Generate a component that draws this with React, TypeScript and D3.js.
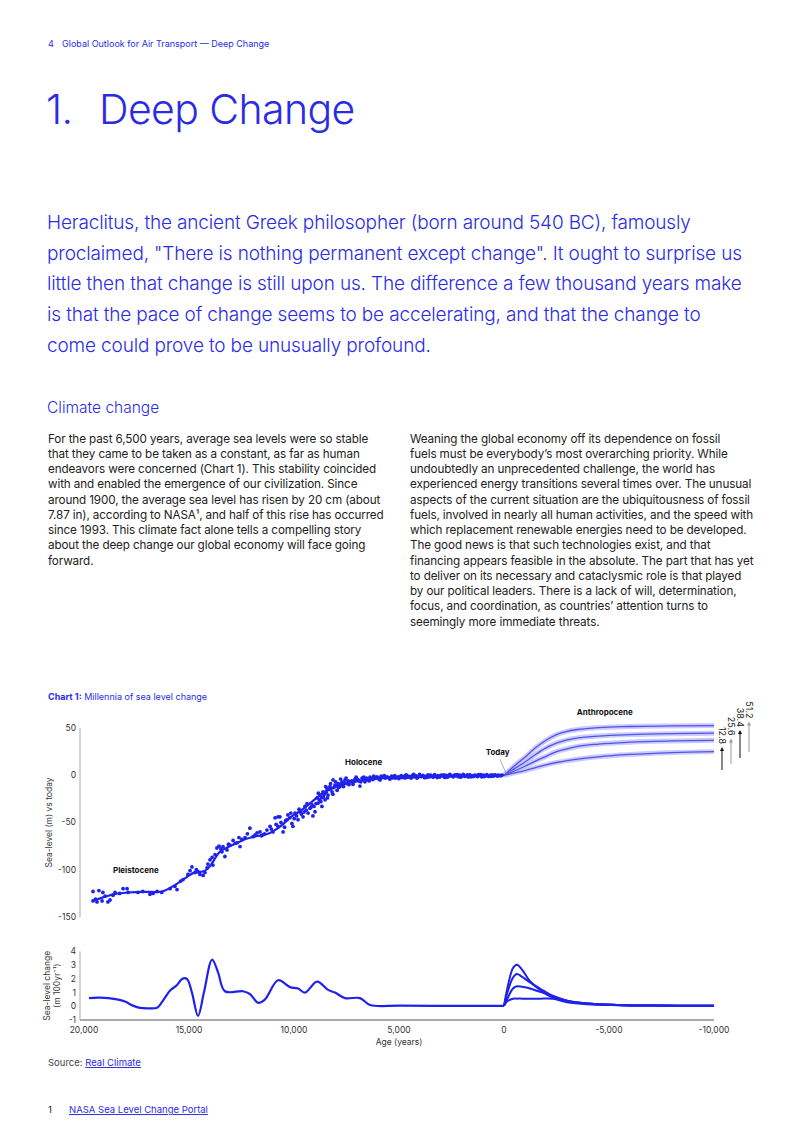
import React from "react";
import * as d3 from "d3";

const BLUE = "#2b2be6";
const MARK = "#1f22ea";
const FONT = "Inter, 'Noto Sans', sans-serif";

const headerText = "Global Outlook for Air Transport — Deep Change";
const introLines = [
  "Heraclitus, the ancient Greek philosopher (born around 540 BC), famously",
  "proclaimed, \"There is nothing permanent except change\". It ought to surprise us",
  "little then that change is still upon us. The difference a few thousand years make",
  "is that the pace of change seems to be accelerating, and that the change to",
  "come could prove to be unusually profound.",
];
const leftLines = [
  "For the past 6,500 years, average sea levels were so stable",
  "that they came to be taken as a constant, as far as human",
  "endeavors were concerned (Chart 1). This stability coincided",
  "with and enabled the emergence of our civilization. Since",
  "around 1900, the average sea level has risen by 20 cm (about",
  "7.87 in), according to NASA¹, and half of this rise has occurred",
  "since 1993. This climate fact alone tells a compelling story",
  "about the deep change our global economy will face going",
  "forward.",
];
const rightLines = [
  "Weaning the global economy off its dependence on fossil",
  "fuels must be everybody’s most overarching priority. While",
  "undoubtedly an unprecedented challenge, the world has",
  "experienced energy transitions several times over. The unusual",
  "aspects of the current situation are the ubiquitousness of fossil",
  "fuels, involved in nearly all human activities, and the speed with",
  "which replacement renewable energies need to be developed.",
  "The good news is that such technologies exist, and that",
  "financing appears feasible in the absolute. The part that has yet",
  "to deliver on its necessary and cataclysmic role is that played",
  "by our political leaders. There is a lack of will, determination,",
  "focus, and coordination, as countries’ attention turns to",
  "seemingly more immediate threats.",
];

// ---- chart data ----
const levelTicks = [50, 0, -50, -100, -150];
const rateTicks = [4, 3, 2, 1, 0, -1];
const ageTicks = [20000, 15000, 10000, 5000, 0, -5000, -10000];
const scenarioLabels = ["12.8", "25.6", "38.4", "51.2"];

// [age (years before today), sea level (m)]
const seaLevelSamples: [number, number][] = [
  [19570,-123],[19290,-122],[19100,-124],[19570,-133],[19380,-134],[19140,-133],[18860,-134],[18760,-132],
  [18620,-127],[18520,-124],[18140,-120],[17950,-120],[17900,-124],[17430,-124],[16860,-126],[16710,-125],
  [16520,-123],[15900,-120],[15670,-117.5],[15570,-121],[15290,-110.5],[15050,-105],[14950,-101],[14860,-97],
  [14710,-103],[14570,-102],[14480,-105],[14330,-106],[14240,-103],[14140,-98],[14100,-94],[14000,-89.5],
  [13900,-87],[13860,-95],[13670,-77],[13570,-75],[13430,-81],[13380,-75.5],[13290,-86],[13190,-79],
  [13050,-74],[12900,-69],[12710,-71.5],[12570,-75.5],[12480,-68],[12330,-66],[12100,-56],[11950,-65],
  [11760,-61],[11620,-60],[11480,-63],[11290,-58],[11140,-54],[11000,-60],[10900,-45],[10760,-44],
  [10760,-54],[10670,-44],[10520,-60],[10330,-47],[10290,-42],[10100,-51],[10050,-54],[9950,-40],
  [9810,-47],[9710,-38.6],[9570,-44],[9480,-33],[9330,-40],[9240,-35],[9140,-31.5],[9100,-43],
  [9000,-38.6],[8900,-24],[8860,-29.5],[8760,-21],[8670,-33],[8620,-17.5],[8520,-26],[8430,-14],
  [8380,-21],[8290,-12],[8190,-17.5],[8140,-5],[8050,-10.5],[7950,-16],[7900,-8.8],[7810,-12],
  [7710,-7],[7670,-10.5],[7570,-5],[7480,-8.8],[7330,-7],[7190,-9.5],[7100,-4.5],[6950,-5],
  [6860,-11.5],[6760,-3],[6620,-7],[6480,-5],[6380,-2],[6240,-4.5],[6050,-1.7],[5900,-5],
  [5760,-2],[5570,-1.7],[5430,-4],[5290,-2.8],[5050,-1.7],
  [19450,-131],[19000,-128],[18300,-125],[17200,-123],[16300,-124],[15400,-112],[14650,-100],[13760,-84],
  [12800,-72],[11850,-63],[11400,-62],[10620,-50],[10400,-48],[10200,-45],[9880,-43],[9650,-41],
  [9420,-37],[9200,-34],[8950,-30],[8800,-26],[8700,-24],[8560,-20],[8470,-18],[8330,-15],
  [8240,-14],[8100,-13],[8000,-11],[7750,-9],[7600,-8],[7420,-6],[7250,-6],[7000,-4],
  [6900,-6],[6700,-4],[6550,-3],[6300,-3.5],[6150,-2.5],[5980,-3],[5850,-1],[5650,-3],
  [5500,-2.5],[5350,-1],[5150,-3],[4950,-2],
  [13480,-78],[13120,-73],[12620,-66],[12220,-62],[11550,-64],[11080,-57],[10850,-52],[10450,-55],
  [10150,-40],[9990,-46],[9760,-36],[9520,-39],[9380,-30],[9050,-33],[8840,-19],[8720,-28],
  [8600,-23],[8490,-12],[8410,-24],[8260,-9],[8150,-20],[8020,-7],[7880,-13],[7780,-4],
  [7640,-12],[7520,-3],[7380,-10],[7150,-7],[7040,-2],[6820,-7],[6680,-2],[6420,-6],
  [6200,-1],[5950,-4],[5700,-0.5],[5450,-3.5],[5200,-0.5],[5000,-3.5],
  [4900,-0.5],[4820,-2.5],[4740,-1],[4660,0.5],[4580,-2],[4500,-1.2],[4420,-3],[4340,0],
  [4260,-1.8],[4180,-0.6],[4100,-2.2],[4020,0.8],[3940,-1.4],[3860,-0.2],[3780,-2.6],[3700,-1],
  [3620,0.4],[3540,-1.6],[3460,-0.4],[3380,-2],[3300,0.6],[3220,-1.1],[3140,-0.3],[3060,-1.9],
  [2980,0.2],[2900,-0.9],[2820,-2.3],[2740,-0.1],[2660,-1.3],[2580,0.9],[2500,-0.7],[2420,-1.7],
  [2340,0.3],[2260,-0.5],[2180,-1.5],[2100,0.1],[2020,-0.8],[1940,1],[1860,-1.2],[1780,-0.3],
  [1700,-1.8],[1620,0.5],[1540,-0.6],[1460,-1.4],[1380,0.2],[1300,-0.9],[1220,0.7],[1140,-0.4],
  [1060,-1.6],[980,0],[900,-0.7],[820,0.6],[740,-1.1],[660,-0.2],[580,0.4],[500,-0.8],
  [420,0.3],[340,-0.5],[260,0.1],[180,-0.3],[100,0.2],
  [4860,-1.5],[4700,-2.8],[4620,-0.4],[4460,-1.9],[4300,1],[4140,-2.9],[3980,-0.6],[3820,-1.5],
  [3660,-2.2],[3500,0.2],[3340,-1.2],[3180,-2.4],[3020,-0.5],[2860,0.5],[2700,-2],[2540,-0.2],
  [2380,-1],[2220,0.7],[2060,-2],[1900,-0.4],[1740,0.3],[1580,-1.7],[1420,-0.3],[1260,-1.3],
  [1100,0.6],[940,-1.4],[780,-0.3],[620,-1.2],[460,0],[300,-0.9],[140,-0.4],
];

const seaLevelTrend: [number, number][] = [
  [19600,-133],[19200,-130],[18600,-125.5],[17900,-124],[17300,-123],[16500,-124],[16200,-123],
  [15700,-117],[15050,-107],[14760,-102],[14430,-103],[14100,-100],[13830,-91],[13570,-80],
  [13140,-76],[12670,-71],[12050,-65],[11240,-63],[10900,-58],[10500,-52],[10200,-44],[9600,-37],
  [9100,-27],[8500,-16],[7700,-9],[6700,-5],[5800,-3],[4500,-1.5],[3000,-0.8],[1500,-0.4],[0,0],
];

const futureAges = [0, -500, -1000, -1500, -2000, -2500, -3000, -3500, -4500, -6000, -8000, -10000];
const futureLevelA = [0, 10, 19, 29, 37, 43, 46.5, 48.4, 50.5, 51.6, 52.2, 52.6];
const futureLevelB = [0, 7, 14, 22, 29, 34, 37.5, 39.5, 41.5, 43, 44, 44.5];
const futureLevelC = [0, 4.5, 9.5, 15, 20, 25, 28, 30.5, 33, 35, 36.3, 37];
const futureLevelD = [0, 2.5, 5, 8, 11, 13.5, 15.5, 17, 19.5, 22, 24, 25];

const pastRate: [number, number][] = [
  [19760,0.6],[19240,0.63],[18430,0.5],[18050,0.35],[17670,0.05],[17330,-0.12],[16860,-0.15],
  [16520,-0.1],[16290,0.3],[15900,1.15],[15570,1.55],[15330,2.0],[15100,2.0],[14860,1.0],
  [14570,-0.7],[14290,1.0],[13900,3.4],[13620,2.5],[13290,1.1],[12430,1.1],[12100,0.9],
  [11710,0.25],[11380,0.5],[10760,1.9],[10190,1.4],[9810,1.3],[9480,1.0],[8900,1.8],
  [8380,1.2],[8050,1.0],[7570,0.6],[6860,0.6],[6380,0.1],[4950,0.05],[2570,0.03],[0,0.03],
];
const futureRateAges = [0, -143, -430, -620, -860, -1240, -1715, -2330, -3000, -3950, -5380, -7000, -10000];
const futureRateA = [0.03, 1.2, 2.8, 3.04, 2.68, 1.83, 1.2, 0.63, 0.37, 0.2, 0.1, 0.05, 0.04];
const futureRateB = [0.03, 0.9, 2.1, 2.36, 2.15, 1.75, 1.3, 0.75, 0.4, 0.2, 0.1, 0.05, 0.04];
const futureRateC = [0.03, 0.5, 1.3, 1.46, 1.42, 1.3, 1.05, 0.75, 0.4, 0.2, 0.1, 0.05, 0.04];
const futureRateD = [0.03, 0.35, 0.55, 0.56, 0.56, 0.56, 0.56, 0.55, 0.3, 0.15, 0.08, 0.05, 0.04];

export default function App() {
  const x = d3.scaleLinear().domain([20000, -10000]).range([84, 714]);
  const yL = d3.scaleLinear().domain([-150, 50]).range([917, 728]);
  const yR = d3.scaleLinear().domain([-1, 4]).range([1020, 951.5]);
  const fmt = (v: number) => d3.format(",")(v).replace("−", "-");

  const lineL = d3.line<[number, number]>().x((d) => x(d[0])).y((d) => yL(d[1])).curve(d3.curveBasis);
  const lineR = d3.line<[number, number]>().x((d) => x(d[0])).y((d) => yR(d[1])).curve(d3.curveCatmullRom.alpha(0.5));
  const futureL = d3.line<[number, number]>().x((d) => x(d[0])).y((d) => yL(d[1])).curve(d3.curveMonotoneX);
  const futureR = d3.line<[number, number]>().x((d) => x(d[0])).y((d) => yR(d[1])).curve(d3.curveCatmullRom.alpha(0.5));

  const levelSeries = [futureLevelA, futureLevelB, futureLevelC, futureLevelD].map((s) =>
    futureAges.map((a, i) => [a, s[i]] as [number, number])
  );
  const rateSeries = [futureRateA, futureRateB, futureRateC, futureRateD].map((s) =>
    futureRateAges.map((a, i) => [a, s[i]] as [number, number])
  );

  const x0 = x(0), y0 = yL(0);
  const xEnd = x(-10000);
  const bodyProps = { fontSize: 11.7, letterSpacing: -0.12, fill: "#222" };

  return (
    <div style={{ position: "absolute", left: 0, top: 0 }}>
      <svg width={802} height={1133} style={{ display: "block", background: "#fff" }} fontFamily={FONT}>
        {/* header */}
        <text x={48} y={46.5} fontSize={9} fill={BLUE}>4</text>
        <text x={62} y={46.5} fontSize={9} fill={BLUE}>{headerText}</text>
        <text y={124} fontSize={41} fontWeight={300} letterSpacing={-0.6} fill={BLUE}>
          <tspan x={46}>1.</tspan>
          <tspan x={99}>Deep Change</tspan>
        </text>
        {introLines.map((t, i) => (
          <text key={i} x={47} y={229 + i * 30.7} fontSize={19} letterSpacing={-0.15} fontWeight={300} fill={BLUE}>{t}</text>
        ))}
        <text x={47} y={412.5} fontSize={15.5} fontWeight={300} fill={BLUE}>Climate change</text>
        {leftLines.map((t, i) => (
          <text key={i} x={48} y={442.5 + i * 15.25} {...bodyProps}>{t}</text>
        ))}
        {rightLines.map((t, i) => (
          <text key={i} x={410} y={442.5 + i * 15.25} {...bodyProps}>{t}</text>
        ))}

        {/* chart title */}
        <text x={48} y={700} fontSize={9} fill={BLUE}>
          <tspan fontWeight={700}>Chart 1:</tspan>
          <tspan> Millennia of sea level change</tspan>
        </text>

        {/* top panel axis */}
        <line x1={80} x2={80} y1={yL(50)} y2={yL(-150)} stroke="#aaa" strokeWidth={1} />
        {levelTicks.map((t) => (
          <text key={t} x={76} y={yL(t)} dy="0.35em" textAnchor="end" fontSize={8.5} fill="#333">{t}</text>
        ))}
        <text transform={`translate(52,${yL(-50)}) rotate(-90)`} textAnchor="middle" fontSize={8.5} fill="#333">Sea-level (m) vs today</text>

        {/* future bands + lines */}
        {levelSeries.map((s, i) => (
          <path key={"b" + i} d={futureL(s) || ""} fill="none" stroke="#c2c2fc" strokeWidth={5} strokeOpacity={0.85} />
        ))}
        {levelSeries.map((s, i) => (
          <path key={"l" + i} d={futureL(s) || ""} fill="none" stroke="#5252ec" strokeWidth={1.3} />
        ))}

        {/* scatter + trend */}
        {seaLevelSamples.map((d, i) => (
          <circle key={i} cx={x(d[0])} cy={yL(d[1])} r={1.9} fill={MARK} />
        ))}
        <path d={lineL(seaLevelTrend) || ""} fill="none" stroke={MARK} strokeWidth={2.2} />

        {/* labels */}
        <text x={x(18620)} y={yL(-100)} dy="0.35em" fontSize={8} fontWeight={700} fill="#111">Pleistocene</text>
        <text x={x(7570)} y={yL(13.5)} dy="0.35em" fontSize={8} fontWeight={700} fill="#111">Holocene</text>
        <text x={x(300)} y={yL(24)} dy="0.35em" textAnchor="middle" fontSize={8} fontWeight={700} fill="#111">Today</text>
        <line x1={x0 - 4} y1={y0 - 16} x2={x0 + 2} y2={y0 - 2} stroke="#999" strokeWidth={0.8} />
        <text x={x(-4800)} y={yL(66.5)} dy="0.35em" textAnchor="middle" fontSize={8} fontWeight={700} fill="#111">Anthropocene</text>

        {/* scenario arrows */}
        {scenarioLabels.map((lab, i) => {
          const ax = xEnd + 8 + i * 9;
          const yb = 770 - i * 6;
          const yt = 748 - i * 8.5;
          const col = i % 2 === 0 ? "#111" : "#999";
          return (
            <g key={lab}>
              <line x1={ax} x2={ax} y1={yb} y2={yt + 2} stroke={col} strokeWidth={1} />
              <path d={`M${ax - 2},${yt + 3} L${ax},${yt - 1} L${ax + 2},${yt + 3} Z`} fill={col} />
              <text transform={`translate(${ax - 3},${yt - 4}) rotate(90)`} textAnchor="end" fontSize={9} fill="#222">{lab}</text>
            </g>
          );
        })}

        {/* bottom panel */}
        <line x1={80} x2={80} y1={yR(4)} y2={yR(-1)} stroke="#aaa" strokeWidth={1} />
        <line x1={80} x2={xEnd} y1={yR(-1)} y2={yR(-1)} stroke="#aaa" strokeWidth={2} />
        {rateTicks.map((t) => (
          <text key={t} x={76} y={yR(t)} dy="0.35em" textAnchor="end" fontSize={8.5} fill="#333">{t}</text>
        ))}
        <text transform={`translate(50,${yR(1.5)}) rotate(-90)`} textAnchor="middle" fontSize={8.5} fill="#333">Sea-level change</text>
        <text transform={`translate(60,${yR(1.5)}) rotate(-90)`} textAnchor="middle" fontSize={8.5} fill="#333">(m 100yr⁻¹)</text>
        {ageTicks.map((t) => (
          <text key={t} x={x(t)} y={1033} textAnchor="middle" fontSize={8.5} fill="#333">{fmt(t)}</text>
        ))}
        <text x={x(5000)} y={1045} textAnchor="middle" fontSize={8.5} fill="#333">Age (years)</text>
        <path d={lineR(pastRate) || ""} fill="none" stroke={MARK} strokeWidth={2.2} />
        {rateSeries.map((s, i) => (
          <path key={i} d={futureR(s) || ""} fill="none" stroke={MARK} strokeWidth={2} />
        ))}

        {/* source + footnote */}
        <text x={48} y={1066} fontSize={9.5} fill="#444">
          <tspan>Source: </tspan>
          <tspan fill={BLUE} textDecoration="underline">Real Climate</tspan>
        </text>
        <text x={48} y={1113} fontSize={9.5} fill="#222">1</text>
        <text x={69} y={1113} fontSize={9.5} fill={BLUE} textDecoration="underline">NASA Sea Level Change Portal</text>
      </svg>
    </div>
  );
}
